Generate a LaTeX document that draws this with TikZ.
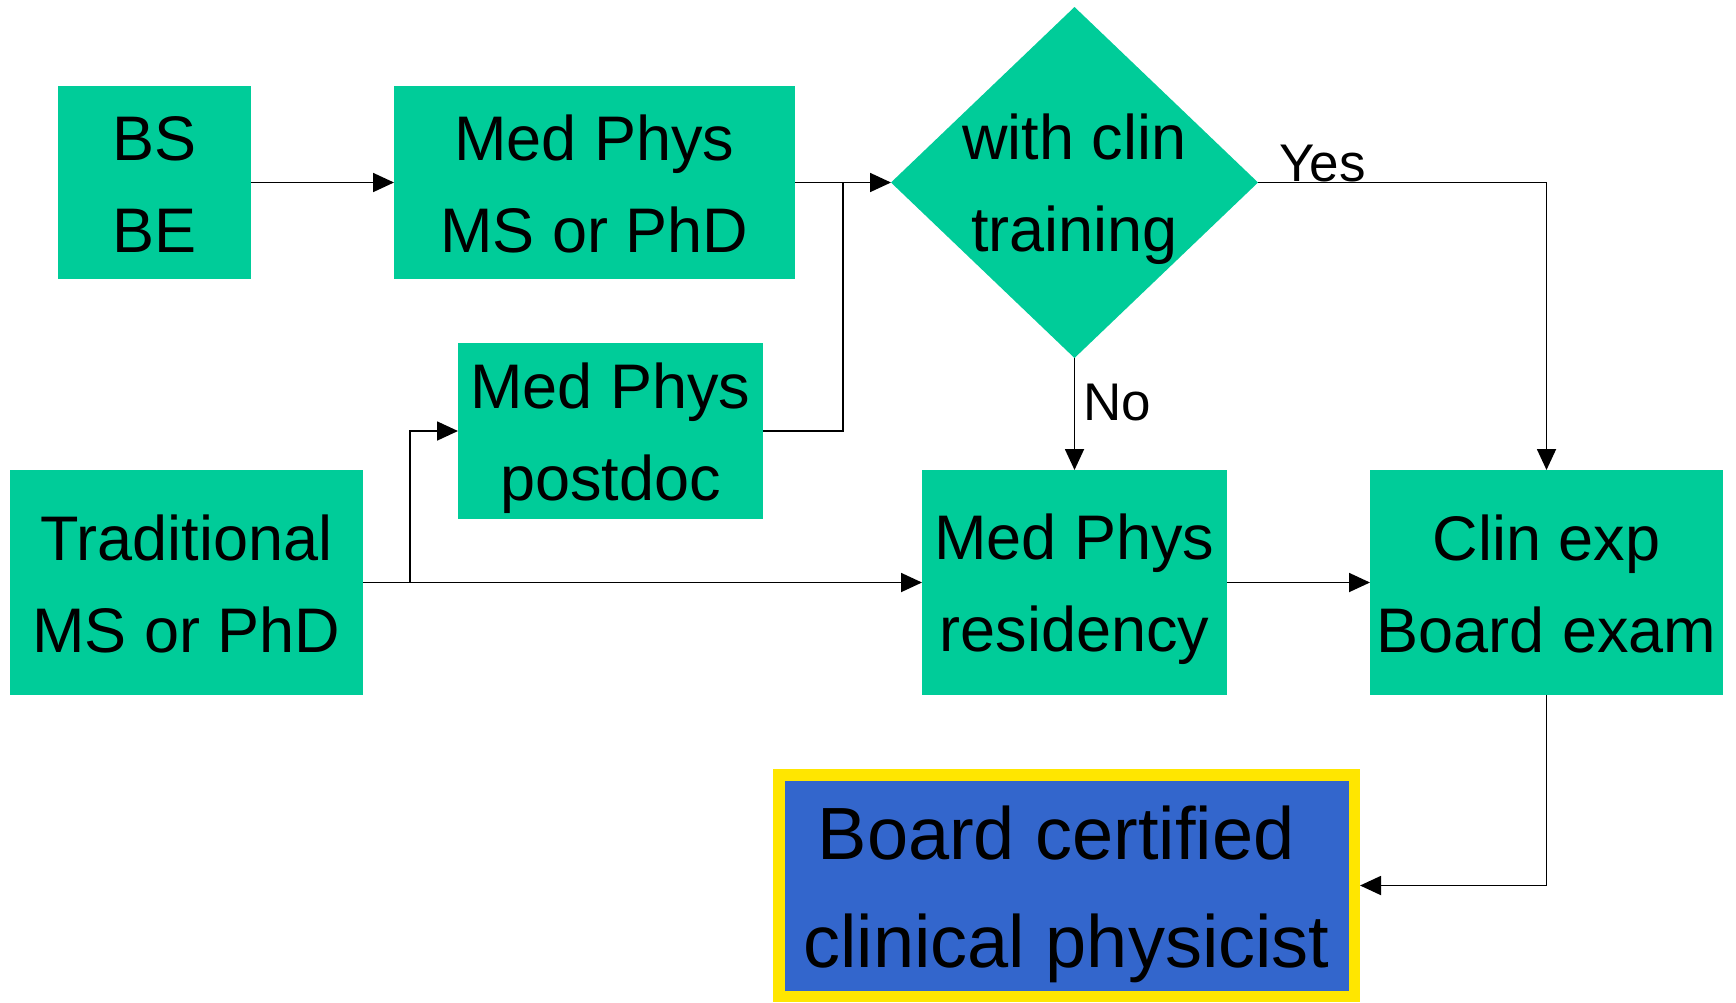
\documentclass[tikz,border=0pt]{standalone}
\usepackage{fontspec}
\setmainfont{Liberation Sans}
\usetikzlibrary{arrows.meta,shapes.geometric}
\definecolor{boxgreen}{HTML}{00CC99}
\definecolor{boardblue}{HTML}{3366CC}
\definecolor{boardyellow}{HTML}{FFE600}
\newcommand\lnstrut{\rule[-13pt]{0pt}{73pt}}
\newcommand\bdstrut{\rule[-13pt]{0pt}{85pt}}
\begin{document}
\begin{tikzpicture}[x=1pt,y=-1pt,
  greenbox/.style={rectangle, fill=boxgreen, inner sep=0pt, outer sep=0pt, align=center, font=\fontsize{63}{92}\selectfont},
  conn/.style={line width=1.8pt, -{Triangle[length=21pt,width=19pt]}},
  plainconn/.style={line width=1.8pt},
  lbl/.style={inner sep=0pt, font=\fontsize{53}{60}\selectfont, anchor=base west}]
\useasboundingbox (0,0) rectangle (1736,1002);

\node[greenbox, minimum width=193pt, minimum height=193pt] (bs) at (154.5,182.5) {\lnstrut BS\\\lnstrut BE};
\node[greenbox, minimum width=401pt, minimum height=193pt] (mpms) at (594.5,182.5) {\lnstrut Med Phys\\\lnstrut MS or PhD};
\node[diamond, fill=boxgreen, inner sep=0pt, outer sep=0pt, minimum width=367pt, minimum height=351pt] (dia) at (1074.5,182.5) {};
\node[inner sep=0pt, align=center, font=\fontsize{63}{92}\selectfont] (diatext) at (dia.center) {\lnstrut with clin\\\lnstrut training};
\node[greenbox, minimum width=305pt, minimum height=176pt] (postdoc) at (610.5,431) {\lnstrut Med Phys\\\lnstrut postdoc};
\node[greenbox, minimum width=353pt, minimum height=225pt] (trad) at (186.5,582.5) {\lnstrut Traditional\\\lnstrut MS or PhD};
\node[greenbox, minimum width=305pt, minimum height=225pt] (resid) at (1074.5,582.5) {\lnstrut Med Phys\\\lnstrut residency};
\node[greenbox, minimum width=353pt, minimum height=225pt] (clin) at (1546.5,582.5) {\lnstrut Clin exp\\\lnstrut Board exam};
\node[rectangle, fill=boardblue, draw=boardyellow, line width=11.5pt, inner sep=0pt, minimum width=575.5pt, minimum height=221.5pt, align=center, font=\fontsize{74}{108}\selectfont] (board) at (1066.5,885.5) {\bdstrut Board certified\kern0.278em\\\bdstrut clinical physicist};

\coordinate (j1) at (843,182.5);
\coordinate (j2) at (410,582.5);

\draw[conn] (bs.east) -- (mpms.west);
\draw[conn] (mpms.east) -- (dia.west);
\draw[plainconn] (postdoc.east) -| (j1);
\draw[conn] (trad.east) -- (resid.west);
\draw[conn] (j2) |- (postdoc.west);
\draw[conn] (dia.south) -- (resid.north);
\draw[conn] (dia.east) -| (clin.north);
\draw[conn] (resid.east) -- (clin.west);
\draw[conn] (clin.south) |- (board.east);

\node[lbl] (yes) at (1279,181) {Yes};
\node[lbl] (no) at (1083,420) {No};
\end{tikzpicture}
\end{document}
